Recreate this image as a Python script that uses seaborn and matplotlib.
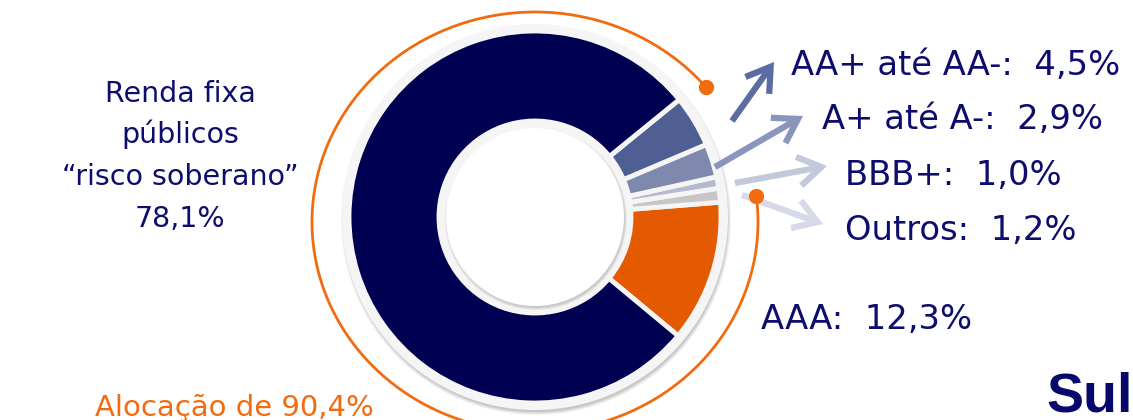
"""
Donut chart: allocation by credit rating (renda fixa)
"""

import numpy as np
import matplotlib
matplotlib.use('Agg')
import matplotlib.pyplot as plt
import seaborn as sns
from matplotlib.patches import Circle

# Data (order: counterclockwise starting at the orange slice)
labels = ['AAA', 'Outros', 'BBB+', 'A+ até A-', 'AA+ até AA-', 'Renda fixa públicos']
values = [12.3, 1.2, 1.0, 2.9, 4.5, 78.1]
colors = ['#e35a00', '#c6c6c6', '#b4b9d0', '#7f89ad', '#4f5e93', '#000052']

label_texts = ['AAA:  12,3%', 'Outros:  1,2%', 'BBB+:  1,0%', 'A+ até A-:  2,9%', 'AA+ até AA-:  4,5%']
sovereign_lines = ['Renda fixa', 'públicos', '\u201crisco soberano\u201d', '78,1%']
allocation_text = 'Alocação de 90,4%'

TEXT_COLOR = '#0d0d6e'
ORANGE = '#f26b0f'

W, H = 1133, 420

sns.set_theme(style='white')
plt.rcParams['font.family'] = ['DejaVu Sans']

fig = plt.figure(figsize=(W / 100, H / 100), dpi=100)
ax = fig.add_axes([0, 0, 1, 1])


def img(x, y):
    """Convert image pixel coords (origin top-left) to axes data coords"""
    return x, H - y


cx, cy = img(535, 217)

# Grey backing ring with a soft shadow
for i, a in enumerate([0.05, 0.05, 0.06, 0.07]):
    ax.add_patch(Circle((cx + 1, cy - 3), 195 - i, color='black', alpha=a, lw=0, zorder=1))
ax.add_patch(Circle((cx, cy), 193, color='#f5f5f5', lw=0, zorder=2))

# Donut
wedges, _ = ax.pie(values, colors=colors, startangle=-39.7, counterclock=True,
                   center=(cx, cy), radius=186,
                   wedgeprops=dict(width=90, edgecolor='#f5f5f5', linewidth=3.5))
for w in wedges:
    w.set_zorder(3)

# Inner shadow + white hole
for i, a in enumerate([0.05, 0.06, 0.07]):
    ax.add_patch(Circle((cx + 1, cy - 2), 91 - i, color='black', alpha=a, lw=0, zorder=4))
ax.add_patch(Circle((cx, cy), 89, color='white', lw=0, zorder=5))

# Orange allocation arc (ellipse around the donut)
ex, ey = img(535, 222)
rx, ry = 223, 210
t = np.deg2rad(np.linspace(40, 367, 400))
ax.plot(ex + rx * np.cos(t), ey + ry * np.sin(t), color=ORANGE, lw=2, zorder=6,
        solid_capstyle='round')
for ang in (40, 367):
    a = np.deg2rad(ang)
    ax.plot(ex + rx * np.cos(a), ey + ry * np.sin(a), 'o', color=ORANGE, ms=10, zorder=7)

# Arrows to the small slices
arrows = [
    ((732, 121), (774, 62), '#5b6ca3'),
    ((715, 167), (803, 116), '#8a95be'),
    ((735, 183), (827, 166), '#c4c8db'),
    ((742, 195), (823, 224), '#d6d9e8'),
]
for start, end, col in arrows:
    ax.annotate('', xy=img(*end), xytext=img(*start),
                arrowprops=dict(arrowstyle='->,head_length=0.55,head_width=0.35',
                                lw=4.5, color=col, shrinkA=0, shrinkB=0,
                                mutation_scale=30, joinstyle='miter', capstyle='butt'),
                zorder=6)

# Right-hand labels (left x, baseline y in image px)
label_pos = [(761, 329), (845, 240), (845, 185), (822, 129), (791, 75)]
for txt, (x, y) in zip(label_texts, label_pos):
    ax.text(*img(x, y), txt, fontsize=24.3, color=TEXT_COLOR, ha='left', va='baseline', zorder=8)

# Left label
for line, y in zip(sovereign_lines, [102, 143, 185, 227]):
    ax.text(*img(180, y), line, fontsize=20.5, color=TEXT_COLOR, ha='center', va='baseline')

ax.text(*img(95, 416), allocation_text, fontsize=21, color=ORANGE, ha='left', va='baseline')

# Logo fragment at the bottom right (cut by the edge as in the original)
ax.text(*img(1046, 411), 'Sul', fontsize=40, fontweight='bold', color='#08086a',
        family=['Liberation Sans', 'DejaVu Sans'], ha='left', va='baseline')

ax.set_xlim(0, W)
ax.set_ylim(0, H)
ax.set_aspect('equal')
ax.axis('off')

fig.savefig('out.png', dpi=100, facecolor='white')
